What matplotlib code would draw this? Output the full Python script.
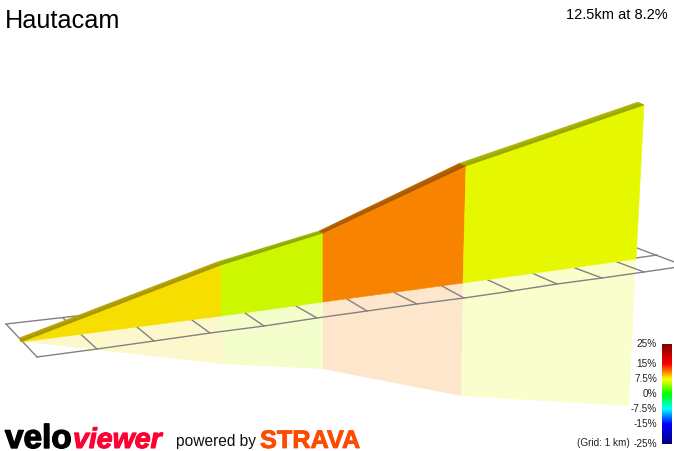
import numpy as np
import matplotlib
matplotlib.use("Agg")
import matplotlib.pyplot as plt
import matplotlib.patheffects as pe
from matplotlib.colors import LinearSegmentedColormap

plt.rcParams['font.family'] = ['Liberation Sans', 'DejaVu Sans']

# --- Values (pixel positions of the projected 3D scene) ---
TITLE = "Hautacam"
SUMMARY = "12.5km at 8.2%"

# wall: one entry per vertex, 4 gradient sections
top_x = [21, 221, 323, 466, 644]
top_y = [342, 265, 233, 166, 105]
back_x = [19, 217, 319, 460, 638]
back_y = [338, 262, 231, 163, 102]
base_x = [21, 221, 323, 463, 636]
base_y = [342, 316, 302, 283, 259]
mirror_x = [25, 223, 323, 461, 629]
mirror_y = [342, 364, 369, 396, 406]

section_colors = ['#f5de00', '#ccf700', '#f88300', '#e6f800']
section_dark = ['#a89700', '#8da800', '#a85a00', '#9ca800']
section_light = ['#b5a300', '#98b500', '#b56100', '#a8b500']

# ground grid
front_x = [37, 97, 154, 210, 264, 317, 367, 417, 464, 512, 557, 602, 644, 685]
front_y = [357, 349, 341, 333, 326, 318, 311, 304, 298, 291, 284, 278, 272, 266]
rear_x = [6, 63, 137, 192, 245, 296, 347, 395, 442, 488, 532, 575, 617, 637]
rear_y = [324, 318, 327, 320, 313, 306, 299, 293, 286, 280, 273, 268, 262, 248]
edge_back_x = [6, 85]
edge_back_y = [324, 315]
edge_right_x = [636, 657]
edge_right_y = [258, 255]

# colour scale
scale_labels = ['25%', '15%', '7.5%', '0%', '-7.5%', '-15%', '-25%']
scale_values = [25, 15, 7.5, 0, -7.5, -15, -25]
scale_colors = ['#800000', '#ff0000', '#ffff00', '#00ff00', '#00ffff', '#0000ff', '#000080']

GRID_COLOR = '#828282'

fig = plt.figure(figsize=(6.74, 4.51), dpi=100)
ax = fig.add_axes([0, 0, 1, 1])
ax.set_xlim(0, 674)
ax.set_ylim(451, 0)
ax.axis('off')

# --- Reflection under the wall ---
for i, color in enumerate(section_colors):
    xs = [base_x[i], base_x[i + 1], mirror_x[i + 1], mirror_x[i]]
    ys = [base_y[i], base_y[i + 1], mirror_y[i + 1], mirror_y[i]]
    ax.fill(xs, ys, color=color, alpha=0.2, lw=0, zorder=1)

# --- Ground grid ---
ax.plot(front_x, front_y, color=GRID_COLOR, lw=1.0, zorder=2)
ax.plot([front_x[0], rear_x[0]], [front_y[0], rear_y[0]], color=GRID_COLOR, lw=1.0, zorder=2)
ax.plot(edge_back_x, edge_back_y, color=GRID_COLOR, lw=1.0, zorder=2)
ax.plot(edge_right_x, edge_right_y, color=GRID_COLOR, lw=1.0, zorder=2)
for i in range(1, len(front_x)):
    ax.plot([front_x[i], rear_x[i]], [front_y[i], rear_y[i]], color=GRID_COLOR, lw=1.0, zorder=2)

# --- Wall faces and the darker strip along the top ---
for i, color in enumerate(section_colors):
    xs = [top_x[i], top_x[i + 1], base_x[i + 1], base_x[i]]
    ys = [top_y[i], top_y[i + 1], base_y[i + 1], base_y[i]]
    ax.fill(xs, ys, facecolor=color, edgecolor=color, lw=0.4, zorder=3)

    sx = [back_x[i], back_x[i + 1], top_x[i + 1], top_x[i]]
    sy = [back_y[i], back_y[i + 1], top_y[i + 1], top_y[i]]
    ax.fill(sx, sy, facecolor=section_light[i], edgecolor=section_light[i], lw=0.3, zorder=4)
    mx = [(back_x[i] + top_x[i]) / 2, (back_x[i + 1] + top_x[i + 1]) / 2, top_x[i + 1], top_x[i]]
    my = [(back_y[i] + top_y[i]) / 2, (back_y[i + 1] + top_y[i + 1]) / 2, top_y[i + 1], top_y[i]]
    ax.fill(mx, my, facecolor=section_dark[i], lw=0, zorder=5)

# --- Colour scale ---
scale_pos = [(25 - v) / 50 for v in scale_values]
cmap = LinearSegmentedColormap.from_list('grade', list(zip(scale_pos, scale_colors)))
ramp = np.linspace(0, 1, 256).reshape(-1, 1)
ax.imshow(ramp, cmap=cmap, extent=(662, 672, 444, 344), aspect='auto', zorder=6)
ax.set_xlim(0, 674)
ax.set_ylim(451, 0)
for label, value in zip(scale_labels, scale_values):
    ax.text(657, 394 - value * 2, label, ha='right', va='center', fontsize=7.2, color='#222222')
ax.text(630, 443.5, "(Grid: 1 km)", ha='right', va='center', fontsize=7.2, color='#222222')

# --- Titles ---
ax.text(5, 28, TITLE, ha='left', va='baseline', fontsize=18.2, color='black')
ax.text(668, 19, SUMMARY, ha='right', va='baseline', fontsize=10.5, color='black')

# --- Footer branding ---
velo = ax.text(5, 448, "velo", ha='left', va='baseline', fontsize=24, fontweight='bold', color='black')
velo.set_path_effects([pe.withStroke(linewidth=1.0, foreground='black')])
viewer = ax.text(73, 448, "viewer", ha='left', va='baseline', fontsize=20.5, fontweight='bold',
                 fontstyle='italic', color='#ff0033')
viewer.set_path_effects([pe.withStroke(linewidth=0.8, foreground='#ff0033')])
ax.text(176, 446, "powered by", ha='left', va='baseline', fontsize=11.2, color='#111111')
strava = ax.text(260, 448, "STRAVA", ha='left', va='baseline', fontsize=18.2, fontweight='bold',
                 color='#fc4c02')
strava.set_path_effects([pe.withStroke(linewidth=0.6, foreground='#fc4c02')])

fig.savefig("out.png", dpi=100)
